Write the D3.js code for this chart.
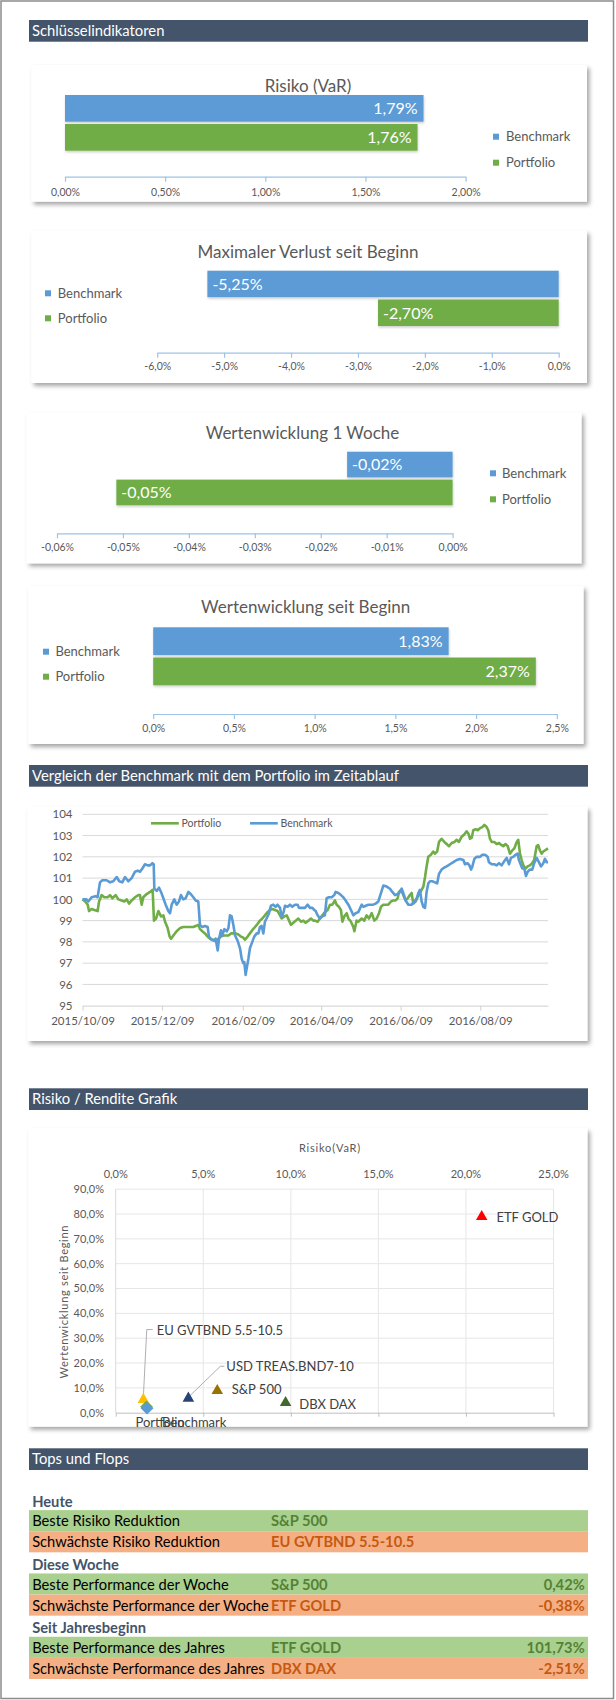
<!DOCTYPE html>
<html><head><meta charset="utf-8">
<script src="https://cdn.jsdelivr.net/npm/d3@7/dist/d3.min.js"></script>
<style>
html,body{margin:0;padding:0;background:#fff;}
svg{display:block;font-family:Lato,"Open Sans",sans-serif;}
</style></head><body>
<svg id="c" width="616" height="1700"></svg>
<script>
// ---------------- DATA ----------------
const seriesNames = ["Benchmark", "Portfolio"];
const seriesColors = ["#5B9BD5", "#70AD47"];

const varValues = [1.79, 1.76];
const varTicks = [0, 0.5, 1, 1.5, 2];
const maxLossValues = [-5.25, -2.70];
const maxLossTicks = [-6, -5, -4, -3, -2, -1, 0];
const week1Values = [-0.016, -0.051];
const week1Ticks = [-0.06, -0.05, -0.04, -0.03, -0.02, -0.01, 0];
const sinceStartValues = [1.83, 2.37];
const sinceStartTicks = [0, 0.5, 1, 1.5, 2, 2.5];

const headers = ["Schlüsselindikatoren", "Vergleich der Benchmark mit dem Portfolio im Zeitablauf", "Risiko / Rendite Grafik", "Tops und Flops"];

const lineStart = "2015-10-09", lineEnd = "2016-09-30";
const lineDateTicks = ["2015/10/09", "2015/12/09", "2016/02/09", "2016/04/09", "2016/06/09", "2016/08/09"];
const lineValueTicks = [95, 96, 97, 98, 99, 100, 101, 102, 103, 104];
const lineSeries = ["Portfolio", "Benchmark"];

const portfolioDays = [0,2,4,5,7,9.1,11.6,12.7,14.7,16.7,19.3,21.1,22.9,25.4,27.5,30,32.1,33.9,35.7,37.7,40.3,42.8,44.1,45.4,46.6,49.2,51.8,53.8,54.8,56.4,58.2,60.2,62,63.3,65.3,66.8,67.9,69.7,72.2,74.8,77.3,81.2,85,86.8,88.8,90.1,91.9,93.9,96,97.8,99.6,101.6,102.9,104.2,106.2,108,109.8,111.9,113.9,115.7,117.5,119.5,121.5,123.3,124.6,126.6,128.4,130.2,132.3,134.3,136.1,137.9,139.9,141.9,143.8,145.6,147.6,149.6,151.5,152.7,154.8,156.6,158.4,159.9,161.7,163.5,165.5,167.6,169.4,171.1,173.2,175.2,177,178.3,180.3,182.1,183.9,185.9,188,189.8,191.6,193.6,194.9,196.7,198.2,199.3,200.8,202.6,203.9,205.9,207.7,208.5,210.2,211.5,214.1,216.1,217.9,219.7,221.8,223.8,225.6,227.4,228.9,230.7,232.5,234.5,236.6,238.4,240.2,241.7,242.7,244.3,246,247.8,249.4,251.1,252.4,253.7,255.5,257,258.8,260.1,261.4,262.7,263.9,265.2,267.2,269,270.3,272,273.4,275.4,277.5,279.3,281.1,283.1,285.2,287,288.7,290.8,292.8,294.6,295.9,297.2,298.5,299.7,301.5,303.1,304.9,306.6,308.2,309.9,311.2,312.5,313.8,315.8,317.6,319.4,321.4,322.7,324.5,326.1,327.8,329.6,331.2,333,334.2,335.5,336.8,338.1,339.8,341.4,343.1,344.9,346.4,348.3,349.5,350.8,352.1,353.4,354.6,357];
const portfolioValues = [100.0,99.9,99.75,99.45,99.55,99.5,99.45,99.9,100.2,100.1,100.1,100.2,100.05,100.2,100.0,99.95,99.9,100.0,99.8,99.95,100.1,100.2,100.2,99.75,100.1,100.25,100.35,100.45,99.0,99.1,99.45,99.2,99.25,98.95,98.65,98.25,98.15,98.3,98.5,98.65,98.7,98.7,98.7,98.75,98.8,98.6,98.5,98.4,98.25,98.15,98.1,98.1,98.0,98.15,98.25,98.3,98.3,98.3,98.4,98.4,98.4,98.35,98.25,98.2,98.1,98.25,98.4,98.55,98.7,98.85,99.0,99.1,99.25,99.4,99.5,99.55,99.5,99.45,99.25,99.1,99.2,99.25,99.0,98.8,98.9,99.0,99.1,98.95,99.0,98.9,99.0,99.1,99.0,99.0,98.95,99.1,99.25,99.4,99.5,99.75,99.75,99.95,99.75,99.65,99.5,98.95,99.2,99.35,99.1,98.95,98.7,98.5,99.0,98.95,99.1,99.0,99.25,99.1,99.35,99.0,99.1,99.35,99.65,99.75,99.75,99.75,99.9,99.95,99.95,100.05,100.35,100.45,100.2,99.95,100.05,100.2,100.3,99.8,99.9,100.1,100.3,100.45,100.6,101.05,101.55,102.0,102.1,102.25,102.15,102.25,102.7,102.85,102.7,102.6,102.5,102.65,102.7,102.8,102.7,102.95,103.05,103.2,103.1,102.85,102.9,103.25,103.3,103.25,103.35,103.4,103.5,103.4,103.25,102.85,102.7,102.7,102.6,102.65,102.55,102.5,102.6,102.5,102.15,102.3,102.4,102.7,102.8,102.15,101.85,101.6,101.45,101.55,101.6,101.7,101.85,102.5,102.55,102.3,102.15,102.25,102.3,102.4];

const benchmarkDays = [0,3,4.5,7,10,11.6,13.4,15.2,18.5,21.1,23.6,26.2,28.2,30.5,32.6,35.1,37.7,40.3,42.3,44.1,45.9,47.9,50,51.8,53.6,54.6,55.1,56.9,58.7,60.2,62,63.8,65.8,67.1,68.4,70.4,72.2,74,75.5,77.3,79.1,81.2,83,85,86.8,88.8,90.1,91.9,93.9,96,97,99,101.1,102.1,103.7,104.7,106.2,107.2,108.8,110.6,111.9,113.1,114.4,115.7,117,119,120.8,122.1,123.3,124.1,125.1,125.9,127.2,128.4,130.2,131.7,133.6,134.9,136.1,137.4,138.7,139.9,141.2,143,144.5,146.3,148.1,149.6,151.5,152.7,154,155.3,157.3,159.1,160.9,162.9,165,166,168.1,170.6,172.7,174.5,176.3,177.8,178.8,180.3,182.1,183.9,185.9,187.2,189,191.1,193.1,194.1,196.2,198.2,200,201.8,203.9,205.9,207.7,209.5,211.5,214.1,215.4,217.2,219.2,221.2,223,224.8,226.9,228.4,230.7,233.3,235.8,237.6,239.7,241.7,243.5,244.8,246,247.8,249.9,252.4,254.5,256.3,257.6,258.8,260.1,261.4,262.7,263.9,265.2,266.5,268.3,270.3,272,273.4,275.4,277.5,279.3,281.8,284.4,287,289.5,292.1,293.3,295.4,296.7,298,299,300.5,302.3,304.9,306.6,308.7,310.7,311.7,313.8,315.8,317.6,319.4,321.4,323.5,325.3,327.1,328.6,330.4,332.2,333.7,334.7,336.3,337.3,338.8,340.1,341.4,343.1,344.9,346.4,348.3,350,351.6,353.4,354.6,355.9,357];
const benchmarkValues = [100.0,100.0,99.9,100.1,100.15,100.1,100.8,100.9,100.9,100.8,100.85,101.05,100.85,100.8,101.05,100.85,101.0,101.3,101.35,101.3,101.45,101.65,101.6,101.6,101.7,101.65,100.5,100.4,100.55,100.35,100.05,99.75,99.45,99.35,99.75,100.0,99.75,99.9,100.2,100.0,100.05,100.35,100.25,100.1,99.95,99.9,98.8,98.7,98.75,98.7,98.25,98.1,98.05,98.15,97.6,98.15,98.55,98.3,98.6,98.5,98.65,99.25,99.2,98.8,98.3,98.05,97.7,97.2,97.0,97.05,96.45,96.75,97.2,97.7,98.0,98.25,98.4,98.4,98.7,98.75,98.4,98.95,99.1,99.35,99.7,99.75,99.65,99.75,99.6,99.2,99.35,99.7,99.65,99.75,99.65,99.75,99.75,99.6,99.6,99.6,99.75,99.6,99.6,99.5,99.45,99.25,99.1,99.2,99.25,100.05,100.1,100.1,100.2,100.35,100.3,100.2,100.1,99.95,99.75,99.5,99.25,99.35,99.4,99.75,99.65,99.7,99.75,99.75,99.75,99.8,99.9,100.2,100.65,100.6,100.5,100.35,100.2,100.25,100.35,100.5,100.3,99.95,99.75,99.75,99.9,100.05,100.3,100.45,99.9,99.65,99.6,100.35,100.75,100.85,100.85,100.8,100.75,101.2,101.4,101.5,101.55,101.65,101.75,101.85,101.9,101.85,101.65,101.7,101.6,101.4,101.55,101.9,102.0,102.0,102.1,102.1,102.0,101.75,101.65,101.65,101.6,101.7,101.6,101.8,101.95,101.65,101.95,102.0,102.1,102.15,101.85,101.6,101.45,101.45,101.1,101.3,101.4,101.4,101.7,101.95,101.75,101.55,101.7,101.9,101.75,101.75];

const scatterNames = ["EU GVTBND 5.5-10.5", "USD TREAS.BND7-10", "S&P 500", "DBX DAX", "ETF GOLD", "Portfolio", "Benchmark"];
const scatterRisk = [1.58, 4.15, 5.8, 9.7, 20.9, 1.76, 1.79];
const scatterReturn = [5.3, 5.8, 8.9, 4.0, 78.9, 2.37, 1.83];
const scatterColors = ["#FFC000", "#264478", "#997300", "#43682B", "#FF0000", "#70AD47", "#5B9BD5"];
const scatterShapes = ["triangle", "triangle", "triangle", "triangle", "triangle", "diamond", "diamond"];
const scatterXTicks = [0, 5, 10, 15, 20, 25];
const scatterYTicks = [0, 10, 20, 30, 40, 50, 60, 70, 80, 90];

const tfSections = ["Heute", "Diese Woche", "Seit Jahresbeginn"];
const tfLabels = ["Beste Risiko Reduktion", "Schwächste Risiko Reduktion", "Beste Performance der Woche", "Schwächste Performance der Woche", "Beste Performance des Jahres", "Schwächste Performance des Jahres"];
const tfNames = ["S&P 500", "EU GVTBND 5.5-10.5", "S&P 500", "ETF GOLD", "ETF GOLD", "DBX DAX"];
const tfValues = ["", "", "0,42%", "-0,38%", "101,73%", "-2,51%"];

// ---------------- DRAW ----------------
const svg = d3.select("#c");
const defs = svg.append("defs");
defs.append("filter").attr("id", "sh").attr("x", "-5%").attr("y", "-5%").attr("width", "112%").attr("height", "120%")
  .append("feDropShadow").attr("dx", 2.5).attr("dy", 3).attr("stdDeviation", 2).attr("flood-color", "#000").attr("flood-opacity", 0.35);
defs.append("filter").attr("id", "bsh").attr("x", "-5%").attr("y", "-10%").attr("width", "110%").attr("height", "140%")
  .append("feDropShadow").attr("dx", 0.5).attr("dy", 1.5).attr("stdDeviation", 1).attr("flood-color", "#000").attr("flood-opacity", 0.2);

const loc = d3.formatLocale({ decimal: ",", thousands: ".", grouping: [3], currency: ["", "€"], minus: "-" });
const fmt = spec => loc.format(spec);
const TXT = "#595959";

// page border
svg.append("rect").attr("x", 1).attr("y", 1).attr("width", 612.5).attr("height", 1697.5)
  .attr("fill", "none").attr("stroke", "#8c8c8c").attr("stroke-width", 1.5);

// section headers
const headerY = [20, 765, 1088.3, 1448.3];
headers.forEach((h, i) => {
  svg.append("rect").attr("x", 29).attr("y", headerY[i]).attr("width", 559).attr("height", 21.7).attr("fill", "#44546A");
  svg.append("text").attr("x", 32).attr("y", headerY[i] + 11).attr("dy", "0.35em")
    .attr("fill", "#fff").attr("font-size", 14.8).text(h);
});

function box(x0, y0, x1, y1) {
  svg.append("rect").attr("x", x0).attr("y", y0).attr("width", x1 - x0).attr("height", y1 - y0)
    .attr("fill", "#fff").attr("filter", "url(#sh)");
}

function barChart(o) {
  box(...o.box);
  svg.append("text").attr("x", o.titleX).attr("y", o.titleY).attr("dy", "0.35em").attr("text-anchor", "middle")
    .attr("fill", TXT).attr("font-size", 17).text(o.title);
  const x = d3.scaleLinear().domain([o.ticks[0], o.ticks[o.ticks.length - 1]]).range(o.xRange);
  const y = d3.scaleBand().domain(seriesNames).range(o.band).paddingInner(0.08);
  const g = svg.append("g");
  seriesNames.forEach((n, i) => {
    const v = o.values[i];
    const x0 = x(0), x1 = x(v);
    g.append("rect").attr("x", Math.min(x0, x1)).attr("y", y(n)).attr("width", Math.abs(x1 - x0))
      .attr("height", y.bandwidth()).attr("fill", seriesColors[i]).attr("filter", "url(#bsh)");
    const lbl = fmt(".2f")(v) + "%";
    g.append("text").attr("x", v < 0 ? x1 + 5 : x1 - 6).attr("y", y(n) + y.bandwidth() / 2).attr("dy", "0.36em")
      .attr("text-anchor", v < 0 ? "start" : "end").attr("fill", "#fff").attr("font-size", 16).text(lbl);
  });
  const ax = svg.append("g").attr("transform", `translate(0,${o.axisY})`)
    .call(d3.axisBottom(x).tickValues(o.ticks).tickSize(5).tickSizeOuter(0)
      .tickFormat(d => fmt("." + o.dec + "f")(d) + "%"));
  ax.select(".domain").attr("stroke", "#9DC3E6").attr("stroke-width", 1.2);
  ax.selectAll(".tick line").attr("stroke", "#9DC3E6").attr("stroke-width", 1.2);
  ax.selectAll(".tick text").attr("y", o.labelY - o.axisY).attr("dy", "0.35em").attr("fill", TXT)
    .attr("font-size", 10.5).attr("font-family", "Lato, sans-serif");
  seriesNames.forEach((n, i) => {
    svg.append("rect").attr("x", o.legend.mx - 3).attr("y", o.legend.ys[i] - 3).attr("width", 6).attr("height", 6).attr("fill", seriesColors[i]);
    svg.append("text").attr("x", o.legend.tx).attr("y", o.legend.ys[i]).attr("dy", "0.35em").attr("fill", TXT)
      .attr("font-size", 13).text(n);
  });
}

barChart({ box: [31.4, 65, 587, 201.7], title: "Risiko (VaR)", titleX: 308, titleY: 86, values: varValues, ticks: varTicks, dec: 2,
  xRange: [65, 465.6], axisY: 176.7, labelY: 192.7, band: [95, 150.7], legend: { mx: 496, tx: 506, ys: [136.7, 162.7] } });
barChart({ box: [31.4, 230.7, 587, 383], title: "Maximaler Verlust seit Beginn", titleX: 308, titleY: 251.7, values: maxLossValues, ticks: maxLossTicks, dec: 1,
  xRange: [157.2, 558.7], axisY: 352.7, labelY: 366.7, band: [270.7, 326], legend: { mx: 48, tx: 57.8, ys: [293.3, 318.3] } });
barChart({ box: [26.7, 412.7, 581.5, 563.3], title: "Wertenwicklung 1 Woche", titleX: 302.5, titleY: 433.3, values: week1Values, ticks: week1Ticks, dec: 2,
  xRange: [57, 452.6], axisY: 533.3, labelY: 547.3, band: [451.7, 505.3], legend: { mx: 493, tx: 502, ys: [473.3, 499.3] } });
barChart({ box: [28.3, 586, 583.5, 744], title: "Wertenwicklung seit Beginn", titleX: 305.7, titleY: 606.7, values: sinceStartValues, ticks: sinceStartTicks, dec: 1,
  xRange: [153.2, 556.8], axisY: 714, labelY: 728.3, band: [627.3, 685.3], legend: { mx: 46, tx: 55.4, ys: [651.7, 676.7] } });

// ---------- line chart ----------
box(27.5, 806.7, 587.4, 1041);
const parseISO = d3.timeParse("%Y-%m-%d"), parseSl = d3.timeParse("%Y/%m/%d");
const t0 = parseISO(lineStart);
const xT = d3.scaleTime().domain([t0, parseISO(lineEnd)]).range([82.5, 548]);
const yL = d3.scaleLinear().domain([95, 104]).range([1005.7, 814.3]);
svg.append("g").selectAll("line").data(lineValueTicks.slice(1)).join("line")
  .attr("x1", 82.5).attr("x2", 548).attr("y1", d => yL(d)).attr("y2", d => yL(d)).attr("stroke", "#D9D9D9").attr("stroke-width", 1);
const yAx = svg.append("g").attr("transform", "translate(82.5,0)").call(d3.axisLeft(yL).tickValues(lineValueTicks).tickSize(0).tickPadding(10));
yAx.select(".domain").remove();
yAx.selectAll("text").attr("fill", TXT).attr("font-size", 11.5).attr("font-family", "Lato, sans-serif");
const xAx = svg.append("g").attr("transform", "translate(0,1005.7)")
  .call(d3.axisBottom(xT).tickValues(lineDateTicks.map(parseSl)).tickSize(5).tickSizeOuter(0).tickFormat(d3.timeFormat("%Y/%m/%d")));
xAx.select(".domain").attr("stroke", "#D9D9D9").attr("stroke-width", 1.2);
xAx.selectAll(".tick line").attr("stroke", "#D9D9D9").attr("stroke-width", 1.2);
xAx.selectAll(".tick text").attr("y", 15).attr("dy", "0.35em").attr("fill", TXT).attr("font-size", 11.5).attr("font-family", "Lato, sans-serif");

const toDate = dd => new Date(t0.getTime() + dd * 864e5);
const line = d3.line().x(d => xT(toDate(d[0]))).y(d => yL(d[1]));
const pData = portfolioDays.map((d, i) => [d, portfolioValues[i]]);
const bData = benchmarkDays.map((d, i) => [d, benchmarkValues[i]]);
svg.append("path").datum(pData).attr("d", line).attr("fill", "none").attr("stroke", "#70AD47").attr("stroke-width", 2.6).attr("stroke-linejoin", "round");
svg.append("path").datum(bData).attr("d", line).attr("fill", "none").attr("stroke", "#5B9BD5").attr("stroke-width", 2.6).attr("stroke-linejoin", "round");
// legend
const legX = [151, 250];
lineSeries.forEach((n, i) => {
  svg.append("line").attr("x1", legX[i]).attr("x2", legX[i] + 27.8).attr("y1", 823.3).attr("y2", 823.3)
    .attr("stroke", n === "Portfolio" ? "#70AD47" : "#5B9BD5").attr("stroke-width", 2.6);
  svg.append("text").attr("x", legX[i] + 30.5).attr("y", 823.3).attr("dy", "0.35em").attr("fill", TXT).attr("font-size", 10.5).text(n);
});

// ---------- scatter ----------
box(28.3, 1128.3, 587.4, 1426.7);
const xS = d3.scaleLinear().domain([0, 25]).range([115.7, 553.5]);
const yS = d3.scaleLinear().domain([0, 90]).range([1412.7, 1189.2]);
svg.append("g").selectAll("line").data(scatterYTicks.slice(1)).join("line")
  .attr("x1", 115.7).attr("x2", 553.5).attr("y1", d => yS(d)).attr("y2", d => yS(d)).attr("stroke", "#E6E6E6");
svg.append("g").selectAll("line").data(scatterXTicks.slice(1)).join("line")
  .attr("y1", 1189.2).attr("y2", 1412.7).attr("x1", d => xS(d)).attr("x2", d => xS(d)).attr("stroke", "#E6E6E6");
svg.append("line").attr("x1", 115.7).attr("x2", 115.7).attr("y1", 1189.2).attr("y2", 1412.7).attr("stroke", "#D9D9D9");
const sxAx = svg.append("g").attr("transform", "translate(0,1412.7)")
  .call(d3.axisBottom(xS).tickValues(scatterXTicks).tickSize(4).tickSizeOuter(0).tickFormat(""));
sxAx.select(".domain").attr("stroke", "#BFBFBF");
sxAx.selectAll(".tick line").attr("stroke", "#BFBFBF");
svg.append("g").selectAll("text").data(scatterXTicks).join("text")
  .attr("x", d => xS(d)).attr("y", 1174.3).attr("dy", "0.35em").attr("text-anchor", "middle")
  .attr("fill", TXT).attr("font-size", 11).text(d => fmt(".1f")(d) + "%");
svg.append("g").selectAll("text").data(scatterYTicks).join("text")
  .attr("x", 104).attr("y", d => yS(d)).attr("dy", "0.35em").attr("text-anchor", "end")
  .attr("fill", TXT).attr("font-size", 11).text(d => fmt(".1f")(d) + "%");
svg.append("text").attr("x", 330).attr("y", 1148.3).attr("dy", "0.35em").attr("text-anchor", "middle")
  .attr("fill", TXT).attr("font-size", 11).attr("letter-spacing", 0.8).text("Risiko(VaR)");
svg.append("text").attr("transform", "translate(64,1301.7) rotate(-90)").attr("dy", "0.35em").attr("text-anchor", "middle")
  .attr("fill", TXT).attr("font-size", 11).attr("letter-spacing", 0.7).text("Wertenwicklung seit Beginn");

// leader lines
const lead = [[0, [[0, -3], [3.4, -70], [9.4, -70]]], [1, [[2, -3], [32, -32], [36, -32]]]];
lead.forEach(([i, pts]) => {
  const cx = xS(scatterRisk[i]), cy = yS(scatterReturn[i]);
  svg.append("polyline").attr("points", pts.map(p => (cx + p[0]) + "," + (cy + p[1])).join(" "))
    .attr("fill", "none").attr("stroke", "#A6A6A6").attr("stroke-width", 0.9);
});
const tri = d3.symbol(d3.symbolTriangle, 58)();
const dia = d3.symbol(d3.symbolSquare, 82)();
scatterNames.forEach((n, i) => {
  svg.append("path").attr("d", scatterShapes[i] === "triangle" ? tri : dia)
    .attr("transform", `translate(${xS(scatterRisk[i])},${yS(scatterReturn[i])})` + (scatterShapes[i] === "diamond" ? " rotate(45)" : ""))
    .attr("fill", scatterColors[i]);
});
// data labels: [dx, dy] relative to point
const scatterLabelOffsets = [[13.3, -68.6], [38, -31.6], [14.5, -0.7], [13.7, 1.3], [14.7, 0.3], [-11, 16], [15, 14.5]];
scatterNames.forEach((n, i) => {
  svg.append("text").attr("x", xS(scatterRisk[i]) + scatterLabelOffsets[i][0]).attr("y", yS(scatterReturn[i]) + scatterLabelOffsets[i][1])
    .attr("dy", "0.35em").attr("fill", "#404040").attr("font-size", 13).text(n);
});

// ---------- tops & flops ----------
const rowY = d3.scaleBand().domain(d3.range(9)).range([1489, 1679]);
tfSections.forEach((s, k) => {
  svg.append("text").attr("x", 32.2).attr("y", rowY(k * 3) + rowY.bandwidth() / 2 + 2).attr("dy", "0.35em")
    .attr("fill", "#44546A").attr("font-weight", "bold").attr("font-size", 14.7).text(s);
  [0, 1].forEach(j => {
    const idx = k * 2 + j, r = k * 3 + 1 + j;
    const good = j === 0;
    const yy = rowY(r);
    svg.append("rect").attr("x", 29).attr("y", yy).attr("width", 559).attr("height", rowY.bandwidth())
      .attr("fill", good ? "#A9D08E" : "#F4B084");
    const cy = yy + rowY.bandwidth() / 2 + 0.5;
    svg.append("text").attr("x", 32.2).attr("y", cy).attr("dy", "0.35em").attr("fill", "#000").attr("font-size", 14.7).text(tfLabels[idx]);
    svg.append("text").attr("x", 271).attr("y", cy).attr("dy", "0.35em").attr("fill", good ? "#548235" : "#C65911")
      .attr("font-weight", "bold").attr("font-size", 14.7).text(tfNames[idx]);
    svg.append("text").attr("x", 584.7).attr("y", cy).attr("dy", "0.35em").attr("text-anchor", "end").attr("fill", good ? "#548235" : "#C65911")
      .attr("font-weight", "bold").attr("font-size", 14.7).text(tfValues[idx]);
  });
});
</script>
</body></html>
